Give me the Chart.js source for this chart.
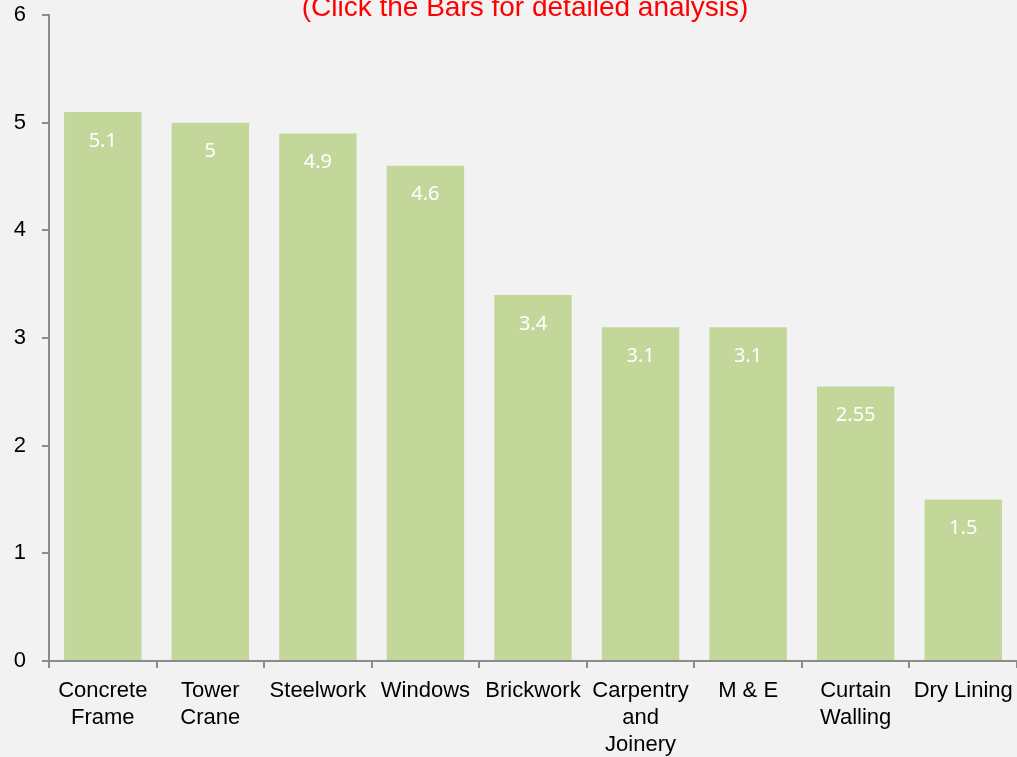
<!DOCTYPE html>
<html>
<head>
<meta charset="utf-8">
<script src="https://cdn.jsdelivr.net/npm/chart.js@4/dist/chart.umd.min.js"></script>
<style>
html,body{margin:0;padding:0;background:#f2f2f2;}
#wrap{position:relative;width:1017px;height:757px;}
</style>
</head>
<body>
<div id="wrap"><canvas id="c" width="1017" height="757"></canvas></div>
<script>
const categories = [['Concrete','Frame'], ['Tower','Crane'], 'Steelwork', 'Windows', 'Brickwork', ['Carpentry','and','Joinery'], 'M & E', ['Curtain','Walling'], 'Dry Lining'];
const values = [5.1, 5, 4.9, 4.6, 3.4, 3.1, 3.1, 2.55, 1.5];
const yTicks = [0, 1, 2, 3, 4, 5, 6];
const titleText = '(Click the Bars for detailed analysis)';

const valueLabels = {
  id: 'valueLabels',
  afterDatasetsDraw(chart) {
    const ctx = chart.ctx;
    const meta = chart.getDatasetMeta(0);
    ctx.save();
    ctx.fillStyle = '#ffffff';
    ctx.font = '20px "Noto Sans"';
    ctx.textAlign = 'center';
    ctx.textBaseline = 'middle';
    meta.data.forEach((bar, i) => {
      ctx.fillText(String(values[i]), bar.x, bar.y + 29);
    });
    ctx.restore();
  }
};
const topTitle = {
  id: 'topTitle',
  afterDraw(chart) {
    const ctx = chart.ctx;
    ctx.save();
    ctx.fillStyle = '#ff0000';
    ctx.font = '28px "Liberation Sans"';
    ctx.textAlign = 'center';
    ctx.textBaseline = 'alphabetic';
    ctx.fillText(titleText, 525, 16);
    ctx.restore();
  }
};

new Chart(document.getElementById('c'), {
  type: 'bar',
  data: {
    labels: categories,
    datasets: [{
      data: values,
      backgroundColor: '#c4d79b',
      categoryPercentage: 1,
      barPercentage: 0.72
    }]
  },
  options: {
    responsive: false,
    animation: false,
    layout: { padding: { top: 15, right: 0, left: 0, bottom: 0 } },
    plugins: { legend: { display: false }, tooltip: { enabled: false } },
    scales: {
      x: {
        afterFit(s) { s.height = 96; s.paddingLeft = 0; s.paddingRight = 0; },
        border: { color: '#8c8c8c', width: 2 },
        grid: { display: true, drawOnChartArea: false, drawTicks: true, tickLength: 7, color: '#8c8c8c', lineWidth: 2 },
        ticks: { color: '#000', font: { family: 'Liberation Sans', size: 22, lineHeight: 1.23 }, maxRotation: 0, autoSkip: false, padding: 9 }
      },
      y: {
        min: 0, max: 6,
        afterFit(s) { s.width = 49; s.paddingTop = 0; s.paddingBottom = 0; },
        afterBuildTicks(s) { s.ticks = yTicks.map(v => ({ value: v })); },
        border: { color: '#8c8c8c', width: 2 },
        grid: { display: true, drawOnChartArea: false, drawTicks: true, tickLength: 7, color: '#8c8c8c', lineWidth: 2 },
        ticks: { color: '#000', font: { family: 'Liberation Sans', size: 22 }, padding: 16 }
      }
    }
  },
  plugins: [valueLabels, topTitle]
});
</script>
</body>
</html>
